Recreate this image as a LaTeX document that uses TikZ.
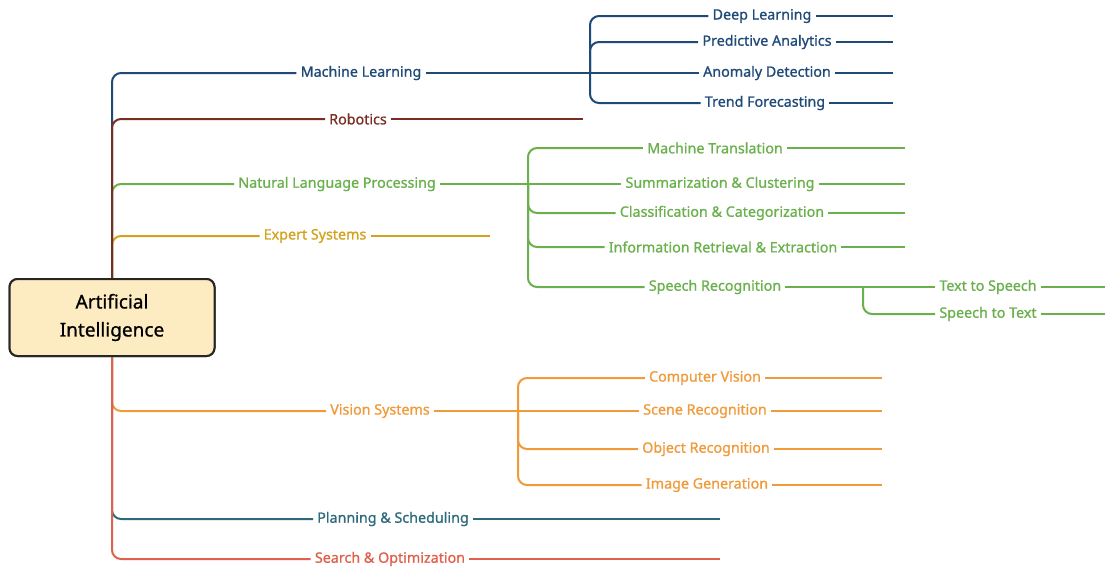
\documentclass[tikz,border=0pt]{standalone}
\usepackage{fontspec}
\setmainfont{Noto Sans}
\newfontfamily\lblfont[FakeBold=0.9]{Noto Sans}
\definecolor{cml}{HTML}{1F4A78}
\definecolor{crob}{HTML}{7A2E22}
\definecolor{cnlp}{HTML}{6AB04C}
\definecolor{cexp}{HTML}{D4A21C}
\definecolor{cvis}{HTML}{F09A3A}
\definecolor{cpla}{HTML}{2C6A7C}
\definecolor{csea}{HTML}{E0604C}
\definecolor{rootfill}{HTML}{FDEBC1}
\tikzset{
  lbl/.style={inner xsep=4pt, inner ysep=2pt, font=\lblfont\fontsize{14.3}{16}\selectfont},
  br/.style={line width=2pt, rounded corners=9pt},
  rootbox/.style={draw=black!85, line width=2pt, fill=rootfill, rounded corners=8pt,
    minimum width=205pt, minimum height=77pt, align=center,
    font=\lblfont\fontsize{19}{28}\selectfont}
}
\begin{document}
\begin{tikzpicture}[x=1pt,y=-1pt]
\useasboundingbox[fill=white] (0,0) rectangle (1105,568);
% root
\node[rootbox] (root) at (112,317.5) {Artificial\\Intelligence};
% labels
\begin{scope}[every node/.style={lbl}]
\node[text=cml] (ml) at (361,73) {Machine Learning};
\node[text=cml] (dl) at (762,16) {Deep Learning};
\node[text=cml] (pa) at (767,42) {Predictive Analytics};
\node[text=cml] (ad) at (767,73) {Anomaly Detection};
\node[text=cml] (tf) at (765,103) {Trend Forecasting};
\node[text=crob] (rob) at (358,119) {Robotics};
\node[text=cnlp] (nlp) at (337,184) {Natural Language Processing};
\node[text=cnlp] (mt) at (715,148) {Machine Translation};
\node[text=cnlp] (sc) at (720,184) {Summarization \& Clustering};
\node[text=cnlp] (cc) at (722,213) {Classification \& Categorization};
\node[text=cnlp] (ir) at (723,247) {Information Retrieval \& Extraction};
\node[text=cnlp] (sr) at (715,287) {Speech Recognition};
\node[text=cnlp] (tts) at (988,287) {Text to Speech};
\node[text=cnlp] (stt) at (988,314) {Speech to Text};
\node[text=cexp] (es) at (315,236) {Expert Systems};
\node[text=cvis] (vs) at (380,411) {Vision Systems};
\node[text=cvis] (cv) at (705,378) {Computer Vision};
\node[text=cvis] (scr) at (705,411) {Scene Recognition};
\node[text=cvis] (obr) at (706,449) {Object Recognition};
\node[text=cvis] (ig) at (707,485) {Image Generation};
\node[text=cpla] (ps) at (393,519) {Planning \& Scheduling};
\node[text=csea] (so) at (390,559) {Search \& Optimization};
\end{scope}
% coordinates
\coordinate (mlb) at (590,73);
\coordinate (nlpb) at (528,184);
\coordinate (srb) at (863,287);
\coordinate (vsb) at (518,411);
\coordinate (dle) at (893,16);
\coordinate (pae) at (893,42);
\coordinate (ade) at (893,73);
\coordinate (tfe) at (893,103);
\coordinate (robe) at (583,119);
\coordinate (mte) at (905,148);
\coordinate (sce) at (905,184);
\coordinate (cce) at (905,213);
\coordinate (ire) at (905,247);
\coordinate (ttse) at (1105,287);
\coordinate (stte) at (1105,314);
\coordinate (ese) at (490,236);
\coordinate (cve) at (882,378);
\coordinate (scre) at (882,411);
\coordinate (obre) at (882,449);
\coordinate (ige) at (882,485);
\coordinate (pse) at (720,519);
\coordinate (soe) at (720,559);
% Machine Learning
\draw[br, cml] (root.north) |- (ml.west);
\draw[br, cml] (ml.east) -- (ad.west);
\draw[br, cml] (mlb) |- (dl.west);
\draw[br, cml] (mlb) |- (pa.west);
\draw[br, cml] (mlb) |- (tf.west);
\draw[br, cml] (dl.east) -- (dle);
\draw[br, cml] (pa.east) -- (pae);
\draw[br, cml] (ad.east) -- (ade);
\draw[br, cml] (tf.east) -- (tfe);
% NLP
\draw[br, cnlp] (root.north) |- (nlp.west);
\draw[br, cnlp] (nlp.east) -- (sc.west);
\draw[br, cnlp] (nlpb) |- (mt.west);
\draw[br, cnlp] (nlpb) |- (cc.west);
\draw[br, cnlp] (nlpb) |- (ir.west);
\draw[br, cnlp] (nlpb) |- (sr.west);
\draw[br, cnlp] (mt.east) -- (mte);
\draw[br, cnlp] (sc.east) -- (sce);
\draw[br, cnlp] (cc.east) -- (cce);
\draw[br, cnlp] (ir.east) -- (ire);
\draw[br, cnlp] (sr.east) -- (tts.west);
\draw[br, cnlp] (srb) |- (stt.west);
\draw[br, cnlp] (tts.east) -- (ttse);
\draw[br, cnlp] (stt.east) -- (stte);
% Expert
\draw[br, cexp] (root.north) |- (es.west);
\draw[br, cexp] (es.east) -- (ese);
% Robotics
\draw[br, crob] (root.north) |- (rob.west);
\draw[br, crob] (rob.east) -- (robe);
% Vision
\draw[br, cvis] (root.south) |- (vs.west);
\draw[br, cvis] (vs.east) -- (scr.west);
\draw[br, cvis] (vsb) |- (cv.west);
\draw[br, cvis] (vsb) |- (obr.west);
\draw[br, cvis] (vsb) |- (ig.west);
\draw[br, cvis] (cv.east) -- (cve);
\draw[br, cvis] (scr.east) -- (scre);
\draw[br, cvis] (obr.east) -- (obre);
\draw[br, cvis] (ig.east) -- (ige);
% Planning
\draw[br, cpla] (root.south) |- (ps.west);
\draw[br, cpla] (ps.east) -- (pse);
% Search
\draw[br, csea] (root.south) |- (so.west);
\draw[br, csea] (so.east) -- (soe);
% redraw root on top
\node[rootbox] at (root) {Artificial\\Intelligence};
\end{tikzpicture}
\end{document}
